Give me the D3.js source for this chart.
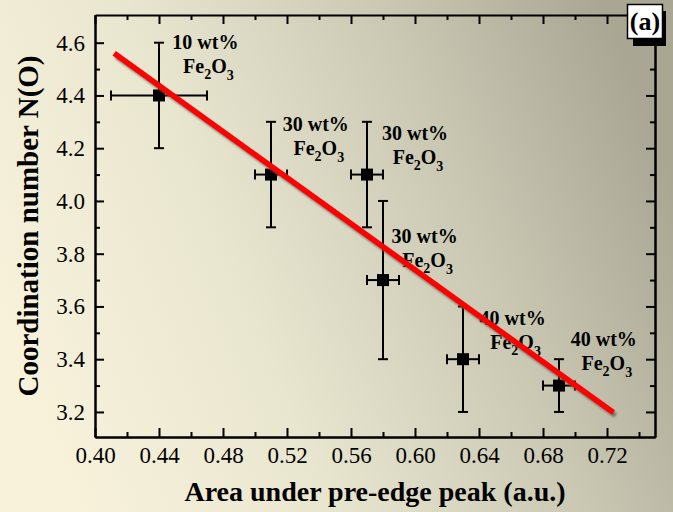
<!DOCTYPE html>
<html>
<head>
<meta charset="utf-8">
<script src="https://cdn.jsdelivr.net/npm/d3@7"></script>
<style>
  body { margin: 0; }
  svg { display: block; }
  text { font-family: "Liberation Serif", "Times New Roman", serif; fill: #000; }
</style>
</head>
<body>
<div id="chart"></div>
<script>
// ---------------------------------------------
// ---------          Data            ----------
// ---------------------------------------------

var pointX = [0.44, 0.51, 0.57, 0.58, 0.63, 0.69];
var pointY = [4.4, 4.1, 4.1, 3.7, 3.4, 3.3];
var errX = [0.03, 0.01, 0.01, 0.01, 0.01, 0.01];
var errY = [0.2, 0.2, 0.2, 0.3, 0.2, 0.1];

// annotation text and where it sits (data units, first line baseline)
var labelWt = ["10 wt%", "30 wt%", "30 wt%", "30 wt%", "40 wt%", "40 wt%"];
var labelX = [0.469, 0.538, 0.600, 0.606, 0.661, 0.718];
var labelY = [4.576, 4.265, 4.231, 3.841, 3.530, 3.451];

// linear fit end points
var fitX = [0.412, 0.724];
var fitY = [4.560, 3.198];

var xTicks = [0.40, 0.44, 0.48, 0.52, 0.56, 0.60, 0.64, 0.68, 0.72];
var xMinor = [0.42, 0.46, 0.50, 0.54, 0.58, 0.62, 0.66, 0.70, 0.74];
var yTicks = [3.2, 3.4, 3.6, 3.8, 4.0, 4.2, 4.4, 4.6];
var yMinor = [3.3, 3.5, 3.7, 3.9, 4.1, 4.3, 4.5];

var xTitle = "Area under pre-edge peak (a.u.)";
var yTitle = "Coordination number N(O)";
var panelTag = "(a)";

// ---------------------------------------------
// ---------    Basic Chart Layout      --------
// ---------------------------------------------

var W = 673, H = 512;
var margin = {left: 95, right: 18, top: 15, bottom: 75};
var serif = "'Liberation Serif', 'Times New Roman', serif";

var svg = d3.select("#chart")
  .append("svg")
    .attr("width", W)
    .attr("height", H)
    .attr("font-family", serif);

// background gradient
var defs = svg.append("defs");
var grad = defs.append("linearGradient")
    .attr("id", "bg")
    .attr("x1", 0).attr("y1", 0.65)
    .attr("x2", 1).attr("y2", 0.35);
grad.append("stop").attr("offset", 0).attr("stop-color", "#f8f2db");
grad.append("stop").attr("offset", 0.35).attr("stop-color", "#e9e6d0");
grad.append("stop").attr("offset", 0.7).attr("stop-color", "#cac8b3");
grad.append("stop").attr("offset", 1).attr("stop-color", "#a9a793");

var blur = defs.append("filter").attr("id", "blur")
    .attr("x", "-10%").attr("y", "-10%").attr("width", "120%").attr("height", "120%");
blur.append("feGaussianBlur").attr("stdDeviation", 1.3);

svg.append("rect")
    .attr("width", W)
    .attr("height", H)
    .attr("fill", "url(#bg)");

var x = d3.scaleLinear().domain([0.40, 0.75]).range([margin.left, W - margin.right]);
var y = d3.scaleLinear().domain([3.105, 4.705]).range([H - margin.bottom, margin.top]);

// axes on four sides, ticks pointing inward
function styleAxis(g) {
  g.attr("font-family", serif);
  g.select(".domain").attr("stroke", "#000").attr("stroke-width", 2);
  g.selectAll(".tick line").attr("stroke", "#000").attr("stroke-width", 2);
  g.selectAll("text").attr("font-size", 23).attr("fill", "#111").attr("font-family", serif);
}

svg.append("g")
    .attr("transform", "translate(0," + y.range()[0] + ")")
    .call(d3.axisBottom(x).tickValues(xTicks).tickSize(-9).tickSizeOuter(0).tickPadding(10)
      .tickFormat(d3.format(".2f")))
    .call(styleAxis);

svg.append("g")
    .attr("transform", "translate(0," + y.range()[0] + ")")
    .call(d3.axisBottom(x).tickValues(xMinor).tickSize(-5).tickSizeOuter(0).tickFormat(""))
    .call(styleAxis);

svg.append("g")
    .attr("transform", "translate(0," + y.range()[1] + ")")
    .call(d3.axisTop(x).tickValues(xTicks.concat(xMinor)).tickSize(-5).tickSizeOuter(0).tickFormat(""))
    .call(styleAxis)
    .call(g => g.selectAll(".tick line").filter(d => xTicks.indexOf(d) >= 0).attr("y2", 9));

svg.append("g")
    .attr("transform", "translate(" + x.range()[0] + ",0)")
    .call(d3.axisLeft(y).tickValues(yTicks).tickSize(-9).tickSizeOuter(0).tickPadding(10)
      .tickFormat(d3.format(".1f")))
    .call(styleAxis);

svg.append("g")
    .attr("transform", "translate(" + x.range()[0] + ",0)")
    .call(d3.axisLeft(y).tickValues(yMinor).tickSize(-5).tickSizeOuter(0).tickFormat(""))
    .call(styleAxis);

svg.append("g")
    .attr("transform", "translate(" + x.range()[1] + ",0)")
    .call(d3.axisRight(y).tickValues(yTicks).tickSize(-9).tickSizeOuter(0).tickFormat(""))
    .call(styleAxis);

svg.append("g")
    .attr("transform", "translate(" + x.range()[1] + ",0)")
    .call(d3.axisRight(y).tickValues(yMinor).tickSize(-5).tickSizeOuter(0).tickFormat(""))
    .call(styleAxis);

// axis titles
svg.append("text")
    .attr("x", (x.range()[0] + x.range()[1]) / 2)
    .attr("y", 501)
    .attr("text-anchor", "middle")
    .attr("font-size", 28)
    .attr("font-weight", "bold")
    .text(xTitle);

svg.append("text")
    .attr("transform", "translate(38," + (y.range()[0] + y.range()[1]) / 2 + ") rotate(-90)")
    .attr("text-anchor", "middle")
    .attr("font-size", 29)
    .attr("font-weight", "bold")
    .text(yTitle);

// ---------------------------------------------
// ---------       Chart Data           --------
// ---------------------------------------------

var points = pointX.map((d, i) => ({x: d, y: pointY[i], ex: errX[i], ey: errY[i]}));

var bars = svg.append("g")
    .attr("stroke", "#000")
    .attr("stroke-width", 2)
    .attr("fill", "none");

points.forEach(function(d) {
  // vertical error bar + caps
  bars.append("line")
      .attr("x1", x(d.x)).attr("x2", x(d.x))
      .attr("y1", y(d.y - d.ey)).attr("y2", y(d.y + d.ey));
  [d.y - d.ey, d.y + d.ey].forEach(function(v) {
    bars.append("line")
        .attr("x1", x(d.x) - 5).attr("x2", x(d.x) + 5)
        .attr("y1", y(v)).attr("y2", y(v));
  });
  // horizontal error bar + caps
  bars.append("line")
      .attr("x1", x(d.x - d.ex)).attr("x2", x(d.x + d.ex))
      .attr("y1", y(d.y)).attr("y2", y(d.y));
  [d.x - d.ex, d.x + d.ex].forEach(function(v) {
    bars.append("line")
        .attr("x1", x(v)).attr("x2", x(v))
        .attr("y1", y(d.y) - 5).attr("y2", y(d.y) + 5);
  });
});

svg.append("g")
  .selectAll("rect")
  .data(points)
  .join("rect")
    .attr("x", d => x(d.x) - 6)
    .attr("y", d => y(d.y) - 6)
    .attr("width", 12)
    .attr("height", 12)
    .attr("fill", "#000");

// annotations
var labels = svg.append("g")
    .attr("font-weight", "bold")
    .attr("font-size", 20)
    .attr("text-anchor", "middle");

labelWt.forEach(function(t, i) {
  var lx = x(labelX[i]), ly = y(labelY[i]);
  labels.append("text")
      .attr("x", lx).attr("y", ly)
      .text(t);
  var f = labels.append("text")
      .attr("x", lx + 3).attr("y", ly + 24);
  f.append("tspan").text("Fe");
  f.append("tspan").attr("font-size", 14).attr("dy", 6).text("2");
  f.append("tspan").attr("dy", -6).text("O");
  f.append("tspan").attr("font-size", 14).attr("dy", 7).text("3");
});

// fit line with soft shadow
var line = d3.line().x(d => x(d[0])).y(d => y(d[1]));
var fit = fitX.map((d, i) => [d, fitY[i]]);

svg.append("path")
    .attr("d", line(fit))
    .attr("transform", "translate(2,3)")
    .attr("stroke", "#5f5d52")
    .attr("stroke-opacity", 0.8)
    .attr("stroke-width", 5)
    .attr("fill", "none")
    .attr("filter", "url(#blur)");

svg.append("path")
    .attr("d", line(fit))
    .attr("stroke", "#ff0000")
    .attr("stroke-width", 5.5)
    .attr("fill", "none");

// panel tag box with drop shadow
svg.append("rect")
    .attr("x", 633).attr("y", 11)
    .attr("width", 33).attr("height", 35)
    .attr("fill", "#000");

svg.append("rect")
    .attr("x", 627.5).attr("y", 4.5)
    .attr("width", 35).attr("height", 34)
    .attr("fill", "#fff")
    .attr("stroke", "#000")
    .attr("stroke-width", 1.5);

svg.append("text")
    .attr("x", 645)
    .attr("y", 30)
    .attr("text-anchor", "middle")
    .attr("font-size", 26)
    .attr("font-weight", "bold")
    .text(panelTag);
</script>
</body>
</html>
